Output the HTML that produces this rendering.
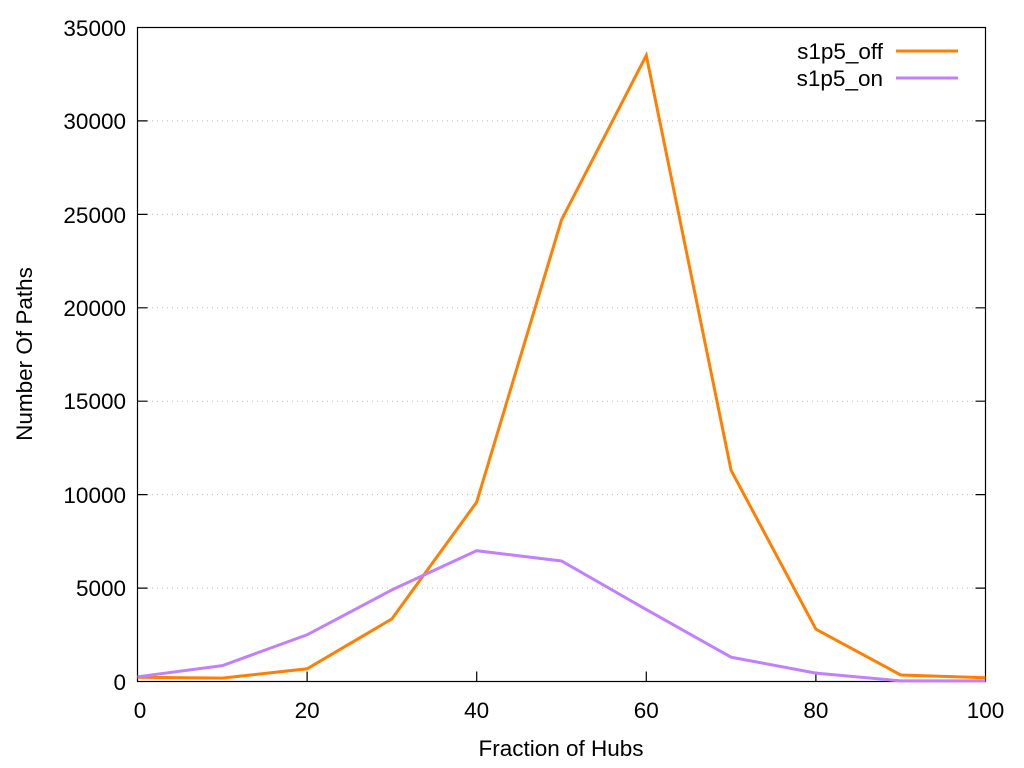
<!DOCTYPE html>
<html><head><style>body{margin:0;background:#fff}svg{display:block}</style></head><body>
<svg width="1024" height="768" xmlns="http://www.w3.org/2000/svg" font-family="Liberation Sans, sans-serif" font-size="22.5">
<rect width="1024" height="768" fill="#fff"/>
<g stroke="#bbb" stroke-width="1" stroke-dasharray="1,4">
<line x1="147" x2="976" y1="588.1" y2="588.1"/><line x1="147" x2="976" y1="494.6" y2="494.6"/>
<line x1="147" x2="976" y1="401.2" y2="401.2"/><line x1="147" x2="976" y1="307.8" y2="307.8"/>
<line x1="147" x2="976" y1="214.4" y2="214.4"/><line x1="147" x2="976" y1="120.9" y2="120.9"/>
</g>
<g stroke="#000" stroke-width="1.2">
<rect x="137.5" y="27.5" width="848" height="654" fill="none"/>
<path d="M137.5 588.1h10M137.5 494.6h10M137.5 401.2h10M137.5 307.8h10M137.5 214.4h10M137.5 120.9h10
M985.5 588.1h-10M985.5 494.6h-10M985.5 401.2h-10M985.5 307.8h-10M985.5 214.4h-10M985.5 120.9h-10
M307.1 681.5v-10M476.7 681.5v-10M646.3 681.5v-10M815.9 681.5v-10"/>
</g>
<g text-anchor="end">
<text x="126" y="690">0</text><text x="126" y="596">5000</text><text x="126" y="503">10000</text>
<text x="126" y="409">15000</text><text x="126" y="316">20000</text><text x="126" y="223">25000</text>
<text x="126" y="129">30000</text><text x="126" y="36">35000</text>
</g>
<g text-anchor="middle">
<text x="140" y="718">0</text><text x="307.1" y="718">20</text><text x="476.7" y="718">40</text>
<text x="646.3" y="718">60</text><text x="815.9" y="718">80</text><text x="985.5" y="718">100</text>
<text x="561" y="756">Fraction of Hubs</text>
<text transform="translate(32,354) rotate(-90)">Number Of Paths</text>
</g>
<polyline fill="none" stroke="#ff8000" stroke-width="3" points="137.5,677.2 222.3,678.1 307.1,668.8 391.9,618.9 476.7,502.1 561.5,220 646.3,55.4 731.1,470.3 815.9,629.2 900.7,675 985.5,677.8"/>
<polyline fill="none" stroke="#c080ff" stroke-width="3" points="137.5,676.8 222.3,665.6 307.1,634.8 391.9,589.9 476.7,550.7 561.5,561 646.3,609.6 731.1,657.2 815.9,673.1 900.7,680.9 985.5,680.9"/>
<text x="883" y="59" text-anchor="end">s1p5_off</text>
<line x1="896" x2="958" y1="51" y2="51" stroke="#ff8000" stroke-width="3"/>
<text x="883" y="86" text-anchor="end">s1p5_on</text>
<line x1="896" x2="958" y1="78" y2="78" stroke="#c080ff" stroke-width="3"/>
</svg>
</body></html>
